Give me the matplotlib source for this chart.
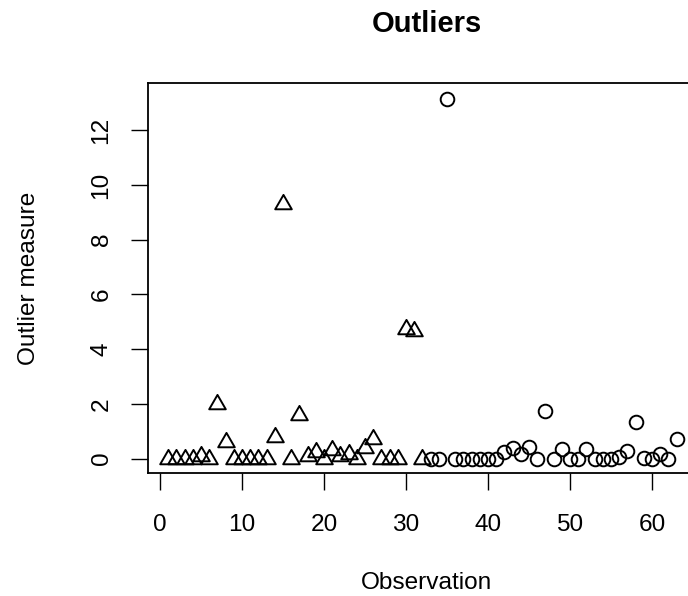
import numpy as np
import matplotlib.pyplot as plt
from matplotlib.path import Path

# observations 1..32 (triangles) and 33..63 (circles)
obs_tri = list(range(1, 33))
val_tri = [0, 0, 0, 0, 0.11, 0, 2.01, 0.61, 0, 0,
           0, 0, 0, 0.80, 9.30, 0, 1.61, 0.08, 0.25, 0,
           0.31, 0.08, 0.18, 0, 0.37, 0.73, 0, 0, 0, 4.75,
           4.66, 0]
obs_circ = list(range(33, 64))
val_circ = [0, 0, 13.16, 0, 0, 0, 0, 0, 0, 0.23,
            0.39, 0.18, 0.43, 0, 1.73, 0, 0.35, 0, 0, 0.35,
            0, 0, 0, 0.06, 0.27, 1.33, 0.03, 0, 0.15, 0,
            0.73]

x_ticks = [0, 10, 20, 30, 40, 50, 60]
y_ticks = [0, 2, 4, 6, 8, 10, 12]

plt.rcParams['font.family'] = ['Liberation Sans', 'DejaVu Sans']

# triangle with its centroid on the point, like R's pch=2
tri = Path([(0, 1), (-0.866, -0.5), (0.866, -0.5), (0, 1)],
           [Path.MOVETO, Path.LINETO, Path.LINETO, Path.CLOSEPOLY])

fig = plt.figure(figsize=(6.88, 5.96), dpi=100)
ax = fig.add_axes([0.2144, 0.2064, 0.8110, 0.6544])

ax.plot(obs_tri, val_tri, linestyle='none', marker=tri, markersize=13.8,
        markerfacecolor='none', markeredgecolor='black', markeredgewidth=1.4)
ax.plot(obs_circ, val_circ, linestyle='none', marker='o', markersize=9.8,
        markerfacecolor='none', markeredgecolor='black', markeredgewidth=1.4)

ax.set_xlim(-1.52, 66.52)
ax.set_ylim(-0.528, 13.73)
ax.set_xticks(x_ticks)
ax.set_yticks(y_ticks)
ax.tick_params(axis='both', direction='out', length=12.2, width=1.0,
               labelsize=17.6, colors='black')
ax.tick_params(axis='x', pad=17)
ax.tick_params(axis='y', pad=13, labelrotation=90)
for lab in ax.get_yticklabels():
    lab.set_verticalalignment('center')

for s in ax.spines.values():
    s.set_linewidth(1.3)

ax.set_title('Outliers', fontsize=21, fontweight='bold', pad=36.7)
ax.set_xlabel('Observation', fontsize=17.6)
ax.set_ylabel('Outlier measure', fontsize=17.6)
ax.xaxis.set_label_coords(0.5, -0.254)
ax.yaxis.set_label_coords(-0.192, 0.5)

fig.savefig('out.png', dpi=100)
